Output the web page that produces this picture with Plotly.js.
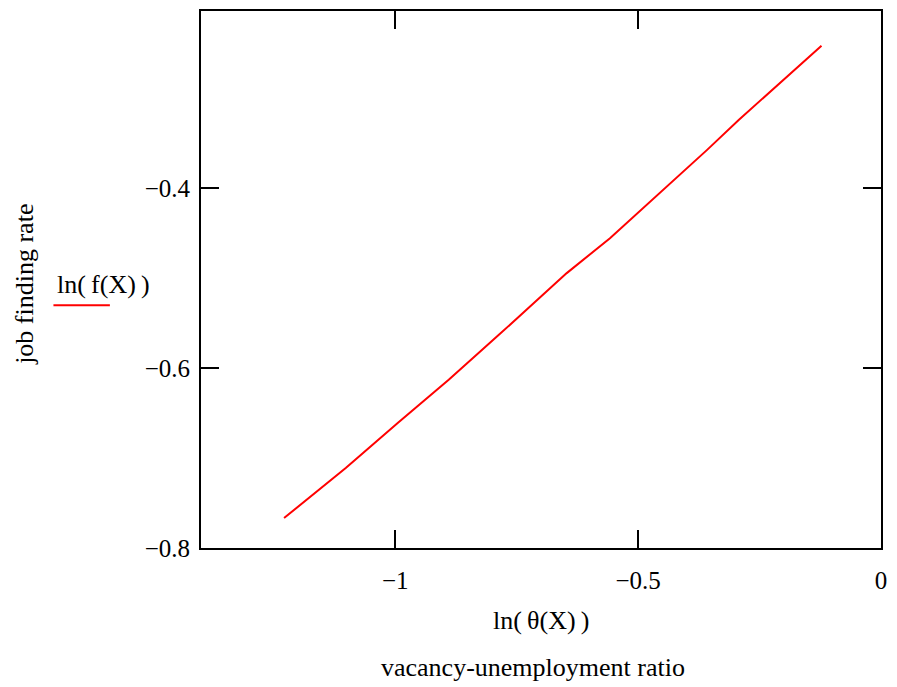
<!DOCTYPE html>
<html>
<head>
<meta charset="utf-8">
<script src="https://cdn.plot.ly/plotly-3.0.1.min.js"></script>
<style>html,body{margin:0;padding:0;background:#fff;}#chart{width:897px;height:687px;}</style>
</head>
<body>
<div id="chart"></div>
<script>
// ln(theta(X)) values (x) and ln(f(X)) values (y)
const lnTheta = [-1.229, -1.102, -0.995, -0.890, -0.785, -0.647, -0.558, -0.468, -0.358, -0.293, -0.207, -0.1225];
const lnF     = [-0.7667, -0.7111, -0.6611, -0.613, -0.5622, -0.4944, -0.4556, -0.4111, -0.3574, -0.3241, -0.283, -0.2416];
const xTicks = [-1, -0.5, 0];
const xTickLabels = ['\u22121', '\u22120.5', '0'];
const yTicks = [-0.8, -0.6, -0.4];
const yTickLabels = ['\u22120.8', '\u22120.6', '\u22120.4'];
const legendLabel = 'ln(\u2009f(X)\u2009)';
const xTitle = 'ln(\u2009\u03b8(X)\u2009)';
const xSubTitle = 'vacancy-unemployment ratio';
const yTitle = 'job finding rate';

const font = 'Liberation Serif';

const trace = {
  x: lnTheta, y: lnF, type: 'scatter', mode: 'lines',
  line: {color: '#ff0000', width: 2}, showlegend: false, hoverinfo: 'skip'
};

const axisCommon = {
  showgrid: false, zeroline: false, showline: true, linecolor: '#000', linewidth: 2,
  ticks: 'inside', ticklen: 18, tickwidth: 2, tickcolor: '#000', mirror: 'ticks',
  tickfont: {family: font, size: 25, color: '#000'}, fixedrange: true
};

const layout = {
  width: 897, height: 687,
  margin: {l: 201, r: 16, t: 11, b: 139},
  paper_bgcolor: '#fff', plot_bgcolor: '#fff',
  xaxis: Object.assign({}, axisCommon, {
    range: [-1.4, 0], tickmode: 'array', tickvals: xTicks, ticktext: xTickLabels,
    ticklabelstandoff: 9
  }),
  yaxis: Object.assign({}, axisCommon, {
    range: [-0.8, -0.203], tickmode: 'array', tickvals: yTicks, ticktext: yTickLabels,
    ticklabelstandoff: 4
  }),
  annotations: [
    {text: xTitle, xref: 'paper', yref: 'paper', x: 0.5, y: 0, yshift: -72, showarrow: false,
     font: {family: font, size: 26, color: '#000'}, xanchor: 'center', yanchor: 'middle'},
    {text: xSubTitle, xref: 'paper', yref: 'paper', x: 0.488, y: 0, yshift: -119, showarrow: false,
     font: {family: font, size: 26, color: '#000'}, xanchor: 'center', yanchor: 'middle'},
    {text: yTitle, xref: 'paper', yref: 'paper', x: 0, xshift: -176, y: 0.49, showarrow: false,
     textangle: -90, font: {family: font, size: 26, color: '#000'}, xanchor: 'center', yanchor: 'middle'},
    {text: legendLabel, xref: 'paper', yref: 'paper', x: 0, xshift: -98, y: 0.49, showarrow: false,
     font: {family: font, size: 26, color: '#000'}, xanchor: 'center', yanchor: 'middle'}
  ],
  shapes: [
    {type: 'line', xref: 'paper', yref: 'paper', x0: -0.217, x1: -0.134, y0: 0.452, y1: 0.452,
     line: {color: '#ff0000', width: 2}}
  ]
};

Plotly.newPlot('chart', [trace], layout, {displayModeBar: false, staticPlot: true});
</script>
</body>
</html>
